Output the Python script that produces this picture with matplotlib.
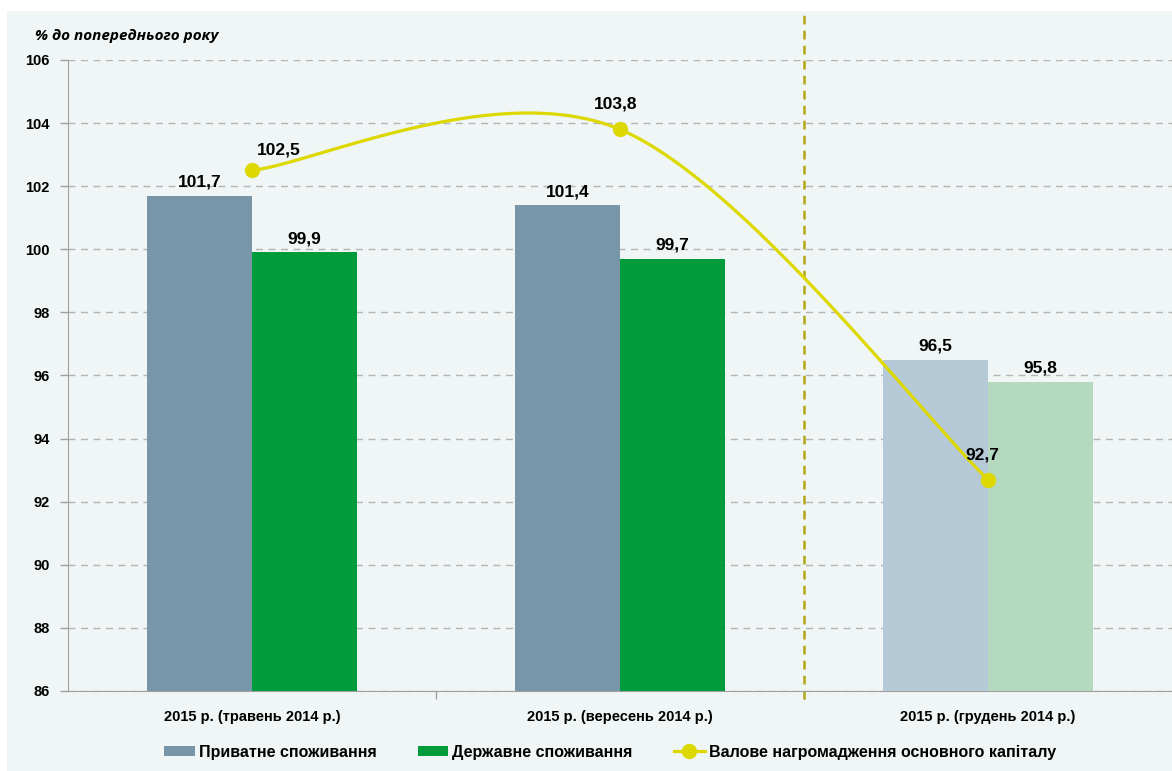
import matplotlib
matplotlib.use("Agg")
import matplotlib.pyplot as plt
from matplotlib.patches import Rectangle, Patch
from matplotlib.lines import Line2D
import matplotlib.transforms as mtransforms
import numpy as np

plt.rcParams['font.family'] = ['Liberation Sans Narrow', 'Liberation Sans', 'DejaVu Sans']
plt.rcParams['font.weight'] = 'bold'

categories = ["2015 р. (травень 2014 р.)", "2015 р. (вересень 2014 р.)", "2015 р. (грудень 2014 р.)"]
private = [101.7, 101.4, 96.5]
public = [99.9, 99.7, 95.8]
capital = [102.5, 103.8, 92.7]
series_names = ["Приватне споживання", "Державне споживання",
                "Валове нагромадження основного капіталу"]
y_ticks = [86, 88, 90, 92, 94, 96, 98, 100, 102, 104, 106]

private_colors = ["#7896a9", "#7896a9", "#b5c9d6"]
public_colors = ["#009b3a", "#009b3a", "#b5d9bf"]
line_color = "#dcd800"
bg = "#f0f5f5"


def fmt(v):
    return f"{v:.1f}".replace(".", ",")


def smooth(xs, ys, n=60):
    # Excel-style smoothed line: cubic Bezier segments with Catmull-Rom controls
    pts = np.column_stack([xs, ys]).astype(float)
    out = []
    for i in range(len(pts) - 1):
        p0 = pts[max(i - 1, 0)]
        p1 = pts[i]
        p2 = pts[i + 1]
        p3 = pts[min(i + 2, len(pts) - 1)]
        c1 = p1 + (p2 - p0) / 6
        c2 = p2 - (p3 - p1) / 6
        t = np.linspace(0, 1, n)[:, None]
        seg = ((1 - t) ** 3) * p1 + 3 * ((1 - t) ** 2) * t * c1 + 3 * (1 - t) * t ** 2 * c2 + t ** 3 * p2
        out.append(seg if i == 0 else seg[1:])
    out = np.vstack(out)
    return out[:, 0], out[:, 1]


fig = plt.figure(figsize=(11.72, 7.71), dpi=100)
fig.patch.set_facecolor("white")
fig.patches.append(Rectangle((7 / 1172, 0), 1, 1 - 11 / 771, transform=fig.transFigure,
                             facecolor=bg, edgecolor="none", zorder=-10))

ax = fig.add_axes([68 / 1172, 1 - 691 / 771, 1 - 68 / 1172, (691 - 60) / 771])
ax.set_facecolor(bg)
ax.patch.set_alpha(0)

x = np.arange(len(categories))
w = 0.285
ax.bar(x - w / 2, private, w, color=private_colors, zorder=3)
ax.bar(x + w / 2, public, w, color=public_colors, zorder=3)

for xi, v in zip(x - w / 2, private):
    ax.annotate(fmt(v), (xi, v), xytext=(0, 6), textcoords="offset pixels",
                ha="center", va="bottom", fontsize=12.5, fontweight="bold", zorder=6)
for xi, v in zip(x + w / 2, public):
    ax.annotate(fmt(v), (xi, v), xytext=(0, 6), textcoords="offset pixels",
                ha="center", va="bottom", fontsize=12.5, fontweight="bold", zorder=6)

sx, sy = smooth(x, capital)
ax.plot(sx, sy, color=line_color, lw=2.3, zorder=4, solid_capstyle="round")
ax.plot(x, capital, "o", color=line_color, ms=10, zorder=5)
offsets = [(27, 20), (-4, 25), (-6, 25)]
for xi, v, off in zip(x, capital, offsets):
    ax.annotate(fmt(v), (xi, v), xytext=off, textcoords="offset pixels",
                ha="center", va="center", fontsize=12.5, fontweight="bold", zorder=6)

ax.set_xlim(-0.5, 2.5)
ax.set_ylim(86, 106)
ax.set_yticks(y_ticks)
ax.set_yticklabels([str(t) for t in y_ticks], fontsize=10.5, fontweight="bold")
ax.yaxis.grid(True, color="#b4b4b4", ls=(0, (5, 4)), lw=1)
ax.set_axisbelow(True)
ax.tick_params(axis="y", length=6, color="#a0a0a0", width=1, pad=7)

ax.set_xticks([0.5, 1.5])
ax.set_xticklabels([])
ax.set_xticks(x, minor=True)
ax.set_xticklabels(categories, minor=True, fontsize=10.5, fontweight="bold")
ax.tick_params(axis="x", which="major", length=6, color="#a0a0a0", width=1)
ax.tick_params(axis="x", which="minor", length=0, pad=14)

for s in ["top", "right"]:
    ax.spines[s].set_visible(False)
ax.spines["left"].set_color("#a0a0a0")
ax.spines["bottom"].set_color("#a0a0a0")

trans = mtransforms.blended_transform_factory(ax.transData, ax.transAxes)
ax.add_line(Line2D([1.5, 1.5], [-0.013, 1.078], transform=trans, color="#b3a616",
                   lw=1.8, ls=(0, (3.5, 2.5)), clip_on=False, zorder=2))

fig.text(35 / 1172, 1 - 36 / 771, "% до попереднього року", fontsize=11,
         fontweight="bold", style="italic", family=["Open Sans", "DejaVu Sans"],
         ha="left", va="center")

handles = [Patch(facecolor=private_colors[0]), Patch(facecolor=public_colors[0]),
           Line2D([], [], color=line_color, lw=2.3, marker="o", ms=10)]
fig.legend(handles, series_names, loc="center", bbox_to_anchor=(610 / 1172, 1 - 752 / 771),
           ncol=3, frameon=False, fontsize=11.5, handlelength=1.9, handleheight=0.65,
           handletextpad=0.25, columnspacing=2.6)

fig.savefig("out.png", dpi=100, facecolor=fig.get_facecolor())
